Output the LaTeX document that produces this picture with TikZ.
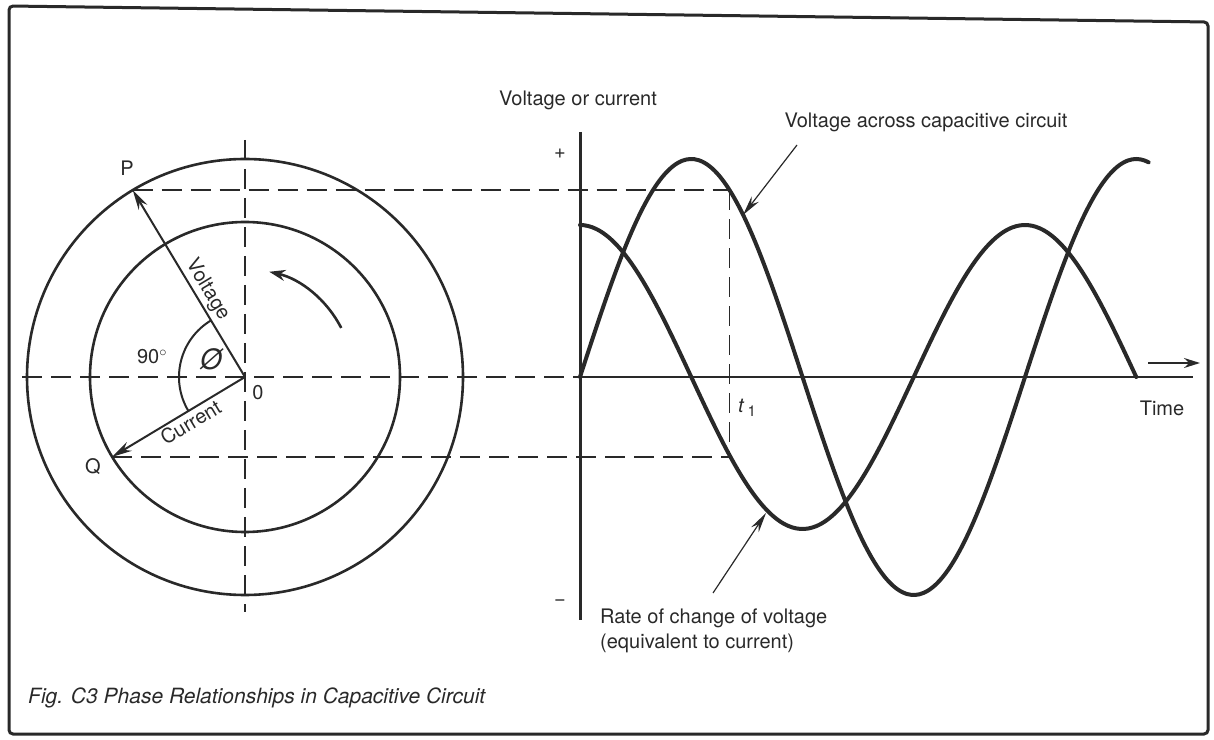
\documentclass[tikz,border=0pt]{standalone}
\usepackage{fontspec}
\setmainfont{TeX Gyre Heros}
\setsansfont{TeX Gyre Heros}
\usetikzlibrary{calc,arrows.meta}
\definecolor{ink}{gray}{0.16}
\begin{document}
\begin{tikzpicture}[x=1pt,y=1pt,
  lbl/.style={font=\fontsize{20}{25}\selectfont, inner sep=1pt, text=ink},
  dsh/.style={line width=1.6pt, dash pattern=on 20pt off 9pt, draw=ink},
  circ/.style={line width=2.6pt, draw=ink},
  wave/.style={line width=4pt, draw=ink, line cap=round},
  vec/.style={line width=2pt, draw=ink, -{Stealth[length=20pt,width=10pt]}},
  ptr/.style={line width=1.2pt, draw=ink, -{Stealth[length=20pt,width=9pt]}},
]
\useasboundingbox (0,0) rectangle (1214,739);
% frame
\draw[line width=3pt, draw=ink, rounded corners=4pt] (9,733) -- (1208,717) -- (1208,5) -- (9,5) -- cycle;

% key points
\coordinate (O) at (245,362);
\coordinate (P) at ($(O)+(121:218)$);
\coordinate (Q) at ($(O)+(211:155)$);
\coordinate (G) at (580,362);
\coordinate (T1) at ({580+121*1.23611},362);
\coordinate (Pg) at (P -| T1);
\coordinate (Qg) at (Q -| T1);
\coordinate (Vtop) at (245,599);
\coordinate (Vbot) at (245,127);
\coordinate (Hl) at (22,362);
\coordinate (Ytop) at (580,607);
\coordinate (Ybot) at (580,119);
\coordinate (Xend) at (1193,362);
\coordinate (A1) at (1148,376);
\coordinate (A2) at (1200,376);

% dashed construction lines
\draw[dsh] (Vtop) -- (Vbot);
\draw[dsh] (Hl) -- (G);
\draw[dsh] (P) -- (Pg);
\draw[dsh] (Q) -- (Qg);
\draw[dsh] (Pg) -- (Qg);

% circles
\draw[circ] (O) circle[radius=218];
\draw[circ] (O) circle[radius=155];

% phasors
\draw[vec] (O) -- (P);
\draw[vec] (O) -- (Q);
\draw[line width=2pt, draw=ink] ($(O)+(121:66)$) arc[start angle=121,end angle=211,radius=66];
\draw[line width=2.6pt, draw=ink, -{Stealth[length=16pt,width=11pt]}] ($(O)+(27:108)$) arc[start angle=27,end angle=77,radius=108];

% axes
\draw[line width=3pt, draw=ink] (Ytop) -- (Ybot);
\draw[line width=2pt, draw=ink] (G) -- (Xend);
\draw[line width=2pt, draw=ink, -{Stealth[length=16pt,width=10pt]}] (A1) -- (A2);

% waves
\draw[wave] plot[domain=0:460, samples=140, smooth] ({580+\x*1.23611},{362+218*sin(\x)});
\draw[wave] plot[domain=0:450, samples=140, smooth] ({580+\x*1.23611},{362+152*cos(\x)});

% labels circle
\node[lbl] (lP) at (127,571) {P};
\node[lbl] (lQ) at (93,272) {Q};
\node[lbl] (lO) at (258,346) {0};
\node[lbl] (l90) at (152,382) {90$^\circ$};
\node[lbl, font=\fontsize{28}{28}\selectfont\itshape] (lphi) at (211,380) {Ø};
\node[lbl, rotate=-59, anchor=south, inner sep=3pt] (lV) at ($(O)+(121:94)$) {Voltage};
\node[lbl, rotate=31, anchor=north, inner sep=3pt] (lC) at ($(O)+(211:70)$) {Current};

% labels graph
\node[lbl, anchor=east] (lVC) at (658,639) {Voltage or current};
\node[lbl] (lplus) at (560,585) {+};
\node[lbl] (lminus) at (560,136) {\textminus};
\node[lbl] (lT) at (1162,331) {Time};
\node[lbl] (lt1) at (747,331) {\textit{t}\,\raisebox{-4pt}{\fontsize{15}{16}\selectfont 1}};
\node[lbl] (lVa) at (926,617) {Voltage across capacitive circuit};
\node[lbl, anchor=north west, align=left] (lR) at (599,131) {Rate of change of voltage\\(equivalent to current)};

% pointers
\coordinate (p1a) at (797,594);
\coordinate (p1b) at (743,524);
\draw[ptr] (p1a) -- (p1b);
\coordinate (p2a) at (713,146);
\coordinate (p2b) at (766,226);
\draw[ptr] (p2a) -- (p2b);

% caption
\node[lbl, anchor=west, font=\fontsize{21}{24}\selectfont\itshape] (cap) at (27,41) {Fig. C3 Phase Relationships in Capacitive Circuit};
\end{tikzpicture}
\end{document}
